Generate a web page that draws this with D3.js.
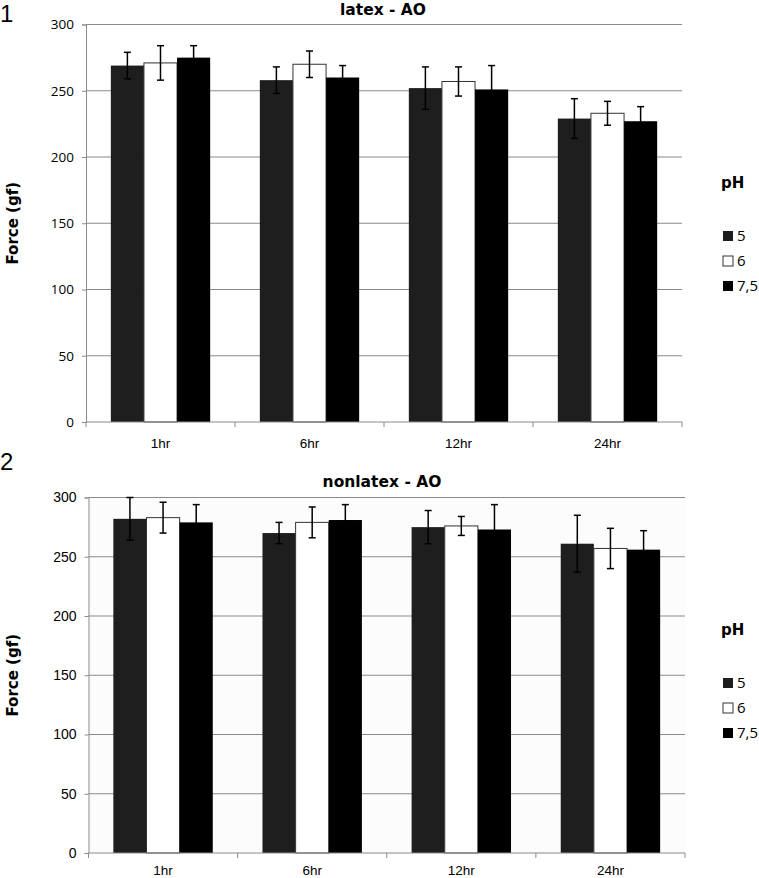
<!DOCTYPE html>
<html>
<head>
<meta charset="utf-8">
<script src="https://cdn.jsdelivr.net/npm/d3@7"></script>
<style>
  body { margin: 0; background: #fff; }
</style>
</head>
<body>
<div id="chart"></div>
<script>
// Categories and series
const times = ["1hr", "6hr", "12hr", "24hr"];
const phLevels = ["5", "6", "7,5"];
const yTicks = [0, 50, 100, 150, 200, 250, 300];

// latex - AO : mean force per pH, per time
const latexPh5 = [269, 258, 252, 229];
const latexPh6 = [271, 270, 257, 233];
const latexPh75 = [275, 260, 251, 227];
const latexErr5 = [10, 10, 16, 15];
const latexErr6 = [13, 10, 11, 9];
const latexErr75 = [9, 9, 18, 11];

// nonlatex - AO
const nonlatexPh5 = [282, 270, 275, 261];
const nonlatexPh6 = [283, 279, 276, 257];
const nonlatexPh75 = [279, 281, 273, 256];
const nonlatexErr5 = [18, 9, 14, 24];
const nonlatexErr6 = [13, 13, 8, 17];
const nonlatexErr75 = [15, 13, 21, 16];

const fills = ["#1e1e1e", "#ffffff", "#000000"];
const boldFont = "'DejaVu Sans', 'Liberation Sans', sans-serif";
const softFont = "'Open Sans', 'Liberation Sans', sans-serif";
const plainFont = "'Liberation Sans', Arial, sans-serif";

const svg = d3.select("#chart").append("svg")
  .attr("width", 759)
  .attr("height", 878)
  .style("font-family", plainFont);

function drawPanel(cfg) {
  const g = svg.append("g");

  const x = d3.scaleBand()
    .domain(times)
    .range([cfg.left, cfg.right]);

  // Excel style: gap width 150% of a bar
  const barW = x.bandwidth() / 4.5;
  const offset = (x.bandwidth() - 3 * barW) / 2;

  const y = d3.scaleLinear()
    .domain([0, 300])
    .range([cfg.bottom, cfg.top]);

  if (cfg.plotFill) {
    g.append("rect")
      .attr("x", cfg.left).attr("y", cfg.top)
      .attr("width", cfg.right - cfg.left)
      .attr("height", cfg.bottom - cfg.top)
      .attr("fill", cfg.plotFill);
  }

  // gridlines
  g.selectAll(".grid").data(yTicks.filter(d => d > 0))
    .join("line")
    .attr("x1", cfg.left).attr("x2", cfg.right)
    .attr("y1", d => y(d)).attr("y2", d => y(d))
    .attr("stroke", "#8a8a8a").attr("stroke-width", 1);

  // y axis
  const yAxis = g.append("g")
    .attr("transform", `translate(${cfg.left},0)`)
    .call(d3.axisLeft(y).tickValues(yTicks).tickSize(4).tickPadding(8));
  yAxis.select(".domain").attr("stroke", "#8a8a8a");
  yAxis.selectAll(".tick line").attr("stroke", "#8a8a8a");
  yAxis.selectAll("text").attr("fill", "#000")
    .style("font-size", cfg.tickSize + "px")
    .style("font-family", cfg.tickFont);

  // bars
  const series = cfg.values.map((vals, s) => vals.map((v, i) => ({
    t: times[i], v: v, e: cfg.errors[s][i], s: s
  })));

  series.forEach((ser, s) => {
    g.selectAll(".bar" + s).data(ser)
      .join("rect")
      .attr("x", d => x(d.t) + offset + s * barW)
      .attr("y", d => y(d.v))
      .attr("width", barW)
      .attr("height", d => y(0) - y(d.v))
      .attr("fill", fills[s])
      .attr("stroke", s === 1 ? "#333" : "none")
      .attr("stroke-width", 1);
  });

  // error bars
  series.forEach((ser, s) => {
    const eg = g.selectAll(".err" + s).data(ser).join("g")
      .attr("stroke", "#000").attr("stroke-width", 1.5);
    const cx = d => x(d.t) + offset + (s + 0.5) * barW;
    eg.append("line")
      .attr("x1", cx).attr("x2", cx)
      .attr("y1", d => y(d.v + d.e)).attr("y2", d => y(d.v - d.e));
    eg.append("line")
      .attr("x1", d => cx(d) - 3.5).attr("x2", d => cx(d) + 3.5)
      .attr("y1", d => y(d.v + d.e)).attr("y2", d => y(d.v + d.e));
    eg.append("line")
      .attr("x1", d => cx(d) - 3.5).attr("x2", d => cx(d) + 3.5)
      .attr("y1", d => y(d.v - d.e)).attr("y2", d => y(d.v - d.e));
  });

  // x axis with ticks between categories
  g.append("line")
    .attr("x1", cfg.left).attr("x2", cfg.right)
    .attr("y1", y(0)).attr("y2", y(0))
    .attr("stroke", "#8a8a8a");
  const bounds = times.map(t => x(t)).concat([cfg.right]);
  g.selectAll(".xtick").data(bounds).join("line")
    .attr("x1", d => d).attr("x2", d => d)
    .attr("y1", y(0)).attr("y2", y(0) + 5)
    .attr("stroke", "#8a8a8a");
  g.selectAll(".xlab").data(times).join("text")
    .attr("x", d => x(d) + x.bandwidth() / 2)
    .attr("y", y(0) + cfg.xLabelDy)
    .attr("text-anchor", "middle")
    .style("font-size", "13.5px")
    .text(d => d);

  // title
  g.append("text")
    .attr("x", cfg.titleX).attr("y", cfg.titleY)
    .attr("text-anchor", "middle")
    .style("font-family", boldFont)
    .style("font-weight", "bold").style("font-size", "15.5px")
    .text(cfg.title);

  // panel number
  g.append("text")
    .attr("x", 0).attr("y", cfg.numY)
    .style("font-size", "24px")
    .text(cfg.num);

  // y axis title
  g.append("text")
    .attr("transform", `translate(18,${(cfg.top + cfg.bottom) / 2}) rotate(-90)`)
    .attr("text-anchor", "middle")
    .style("font-family", boldFont)
    .style("font-weight", "bold").style("font-size", "15px")
    .text("Force (gf)");

  // legend
  const lg = g.append("g").attr("transform", `translate(720,${cfg.legendY})`);
  lg.append("text").attr("x", 1).attr("y", 0)
    .style("font-family", boldFont)
    .style("font-weight", "bold").style("font-size", "15px").text("pH");
  phLevels.forEach((p, i) => {
    const ly = 52 + i * 25;
    lg.append("rect")
      .attr("x", 3).attr("y", ly - 9).attr("width", 10).attr("height", 10)
      .attr("fill", fills[i])
      .attr("stroke", i === 1 ? "#333" : "none");
    lg.append("text").attr("x", 17).attr("y", ly + 1)
      .style("font-family", softFont)
      .style("font-size", "15px").text(p);
  });
}

drawPanel({
  title: "latex - AO", num: "1", numY: 22,
  titleX: 383, titleY: 15,
  left: 86, right: 682, top: 24.5, bottom: 422,
  values: [latexPh5, latexPh6, latexPh75],
  errors: [latexErr5, latexErr6, latexErr75],
  legendY: 188, tickFont: softFont, tickSize: 13.5,
  plotFill: null, xLabelDy: 26
});

drawPanel({
  title: "nonlatex - AO", num: "2", numY: 470,
  titleX: 382, titleY: 487,
  left: 88.5, right: 685, top: 497.5, bottom: 853,
  values: [nonlatexPh5, nonlatexPh6, nonlatexPh75],
  errors: [nonlatexErr5, nonlatexErr6, nonlatexErr75],
  legendY: 635, tickFont: plainFont, tickSize: 14,
  plotFill: "#fcfcfc", xLabelDy: 22
});
</script>
</body>
</html>
